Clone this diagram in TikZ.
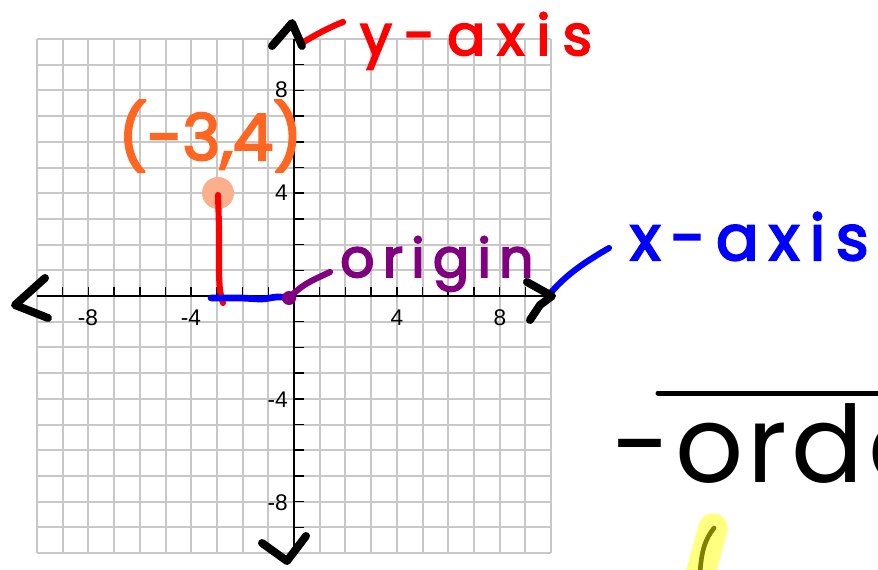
\documentclass[tikz,border=0pt]{standalone}
\usepackage{fontspec}
\setmainfont{Liberation Sans}
\newfontfamily\hand{Poppins}[FakeBold=3.5]
\newfontfamily\handthin{Poppins}
\definecolor{gridgray}{RGB}{200,200,200}
\definecolor{penred}{RGB}{255,0,0}
\definecolor{penblue}{RGB}{0,0,255}
\definecolor{penpurple}{RGB}{128,0,128}
\definecolor{penorange}{RGB}{255,102,34}
\definecolor{dotpeach}{RGB}{250,176,140}
\definecolor{hiyellow}{RGB}{255,255,128}
\definecolor{penolive}{RGB}{128,128,0}
\tikzset{
  gridline/.style={draw=gridgray, line width=1.5pt},
  axisline/.style={draw=black, line width=1.1pt},
  tickline/.style={draw=black, line width=1.1pt},
  ticklabel/.style={font=\fontsize{17}{17}\selectfont, inner sep=0pt},
  pen/.style={line width=4.6pt, line cap=round, line join=round},
  bigpen/.style={line width=6pt, line cap=round, line join=round},
  handtext/.style={inner sep=0pt, anchor=base west},
}
\begin{document}
\begin{tikzpicture}[x=0.75pt,y=-0.75pt]
\clip (0,0) rectangle (878,569);
\fill[white] (0,0) rectangle (878,569);
% grid
\foreach \k in {-10,...,10} {
  \draw[gridline] ({294+25.7*\k},39) -- ({294+25.7*\k},553);
  \draw[gridline] (37,{296+25.7*\k}) -- (551,{296+25.7*\k});
}
% axes
\coordinate (O) at (294,296);
\coordinate (xL) at (37,296);
\coordinate (xR) at (551,296);
\coordinate (yT) at (294,39);
\coordinate (yB) at (294,553);
\draw[axisline] (xL) -- (xR);
\draw[axisline] (yT) -- (yB);
\foreach \k in {-9,...,-1,1,2,...,9} {
  \draw[tickline] ({294+25.7*\k},296) -- ({294+25.7*\k},287);
  \draw[tickline] (294,{296+25.7*\k}) -- (304,{296+25.7*\k});
}
% tick labels
\node[ticklabel] (xm8) at (88,318) {-8};
\node[ticklabel] (xm4) at (191,318) {-4};
\node[ticklabel] (xp4) at (397,318) {4};
\node[ticklabel] (xp8) at (500,318) {8};
\node[ticklabel, anchor=east] (yp8) at (288,90) {8};
\node[ticklabel, anchor=east] (yp4) at (288,193) {4};
\node[ticklabel, anchor=east] (ym4) at (288,400) {-4};
\node[ticklabel, anchor=east] (ym8) at (288,503) {-8};
% point (-3,4)
\node[circle, fill=dotpeach, minimum size=24pt, inner sep=0pt] (P) at (218,193) {};
\draw[pen, penred] plot[smooth] coordinates {(218,195) (219,230) (219,270) (220,290) (223,303)};
\draw[pen, penblue, line width=5pt] plot[smooth] coordinates {(211,298) (240,298) (262,299) (277,297) (293,298)};
% purple origin pointer
\fill[penpurple] (289,298) circle (7);
\coordinate (oStart) at (291,296);
\coordinate (oEnd) at (330,272);
\draw[pen, penpurple] (oStart) .. controls (305,282) and (318,278) .. (oEnd);
% handwritten labels
\node[handtext, text=penred, font={\hand\fontsize{42}{42}\selectfont\addfontfeature{LetterSpace=22}}] (ylab) at (360,55) {y-axis};
\node[handtext, text=penpurple, font={\hand\fontsize{40}{40}\selectfont\addfontfeature{LetterSpace=16}}] (olab) at (340,277) {origin};
\node[handtext, text=penblue, font={\hand\fontsize{47}{47}\selectfont\addfontfeature{LetterSpace=17}}] (xlab) at (630,260) {x-axis};
\node[handtext, text=penorange, font={\hand\fontsize{48}{48}\selectfont}] (plab) at (118,160) {(-3,4)};
\node[handtext, text=black, font={\handthin\fontsize{80}{80}\selectfont\addfontfeature{LetterSpace=4}}] (ord) at (612,482) {-orde};
% pointers
\coordinate (yp1) at (302,43);
\coordinate (yp2) at (343,22);
\draw[pen, penred] (yp1) .. controls (315,35) and (330,27) .. (yp2);
\coordinate (xp1) at (548,296);
\coordinate (xp2) at (609,248);
\draw[pen, penblue] (xp1) .. controls (565,275) and (585,262) .. (xp2);
% arrowheads
\draw[bigpen] (272,46) -- (292,23) -- (302,46);
\draw[bigpen] (45,278) -- (15,305) -- (48,318);
\draw[bigpen] (527,282) -- (552,296) -- (540,305) -- (530,320);
\draw[bigpen] (262,543) -- (287,561) -- (306,536);
% overline and highlighter
\coordinate (ov1) at (658,393);
\coordinate (ov2) at (880,393);
\draw[line width=3.75pt, line cap=round] (ov1) -- (ov2);
\draw[line width=22pt, line cap=round, hiyellow] (713,528) -- (700,575);
\draw[line width=3.5pt, line cap=round, penolive] (714,528) .. controls (706,538) and (701,550) .. (700,575);
\end{tikzpicture}
\end{document}
